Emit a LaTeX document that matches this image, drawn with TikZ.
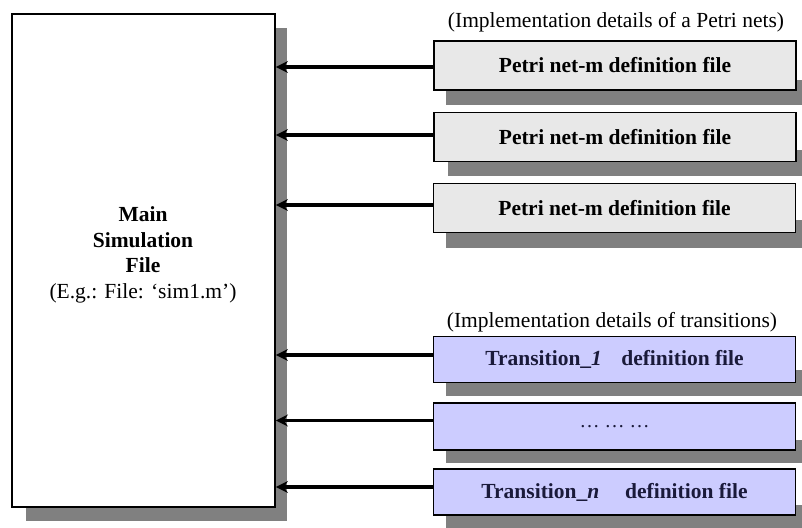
\documentclass[tikz,border=0pt]{standalone}
\usepackage{fontspec}
\setmainfont{Liberation Serif}
\usetikzlibrary{arrows.meta}
\definecolor{shadowgray}{HTML}{808080}
\definecolor{petrifill}{HTML}{E8E8E8}
\definecolor{transfill}{HTML}{CCCCFF}
\definecolor{transtext}{HTML}{1A1A3A}
\tikzset{
  mainbox/.style={draw=black, line width=1.8pt, fill=white, minimum width=263pt, minimum height=493pt, inner sep=0pt},
  petribox/.style={draw=black, line width=1.8pt, fill=petrifill, minimum width=362pt, minimum height=49pt, inner sep=0pt, font=\fontsize{21.5}{24}\selectfont\bfseries},
  transbox/.style={draw=black, line width=1.8pt, fill=transfill, minimum width=362pt, minimum height=46pt, inner sep=0pt, text=transtext, font=\fontsize{21.5}{24}\selectfont\bfseries},
  shadowfill/.style={fill=shadowgray, draw=none},
  feed/.style={line width=3.2pt, -{Stealth[length=12pt,width=12pt]}},
  caption/.style={font=\fontsize{21.5}{24}\selectfont, inner sep=0pt}
}
\begin{document}
\begin{tikzpicture}[x=1pt,y=-1pt]
\useasboundingbox (0,0) rectangle (802,527);
\clip (0,0) rectangle (802,527);
% main box shadow
\fill[shadowfill] (26,28) rectangle (287,521);
\node[mainbox] (main) at (143.5,260.5) {};
\node[align=center, font=\fontsize{21.5}{25.5}\selectfont] (maintext) at (143,255) {\textbf{Main}\\\textbf{Simulation}\\\textbf{File}\\(E.g.: File: `sim1.m')};
% petri boxes
\fill[shadowfill] (446,80) rectangle (810,105);
\node[petribox] (p1) at (615,65.5) {Petri net-m definition file};
\fill[shadowfill] (448,150) rectangle (810,176);
\node[petribox] (p2) at (615,137) {Petri net-m definition file};
\fill[shadowfill] (446,220) rectangle (810,248);
\node[petribox] (p3) at (614.5,208) {Petri net-m definition file};
% transition boxes
\fill[shadowfill] (446,370) rectangle (810,396);
\node[transbox] (t1) at (614.5,359.5) {Transition\_\textit{1}\hspace{0.9em}definition file};
\fill[shadowfill] (446,440) rectangle (810,463);
\node[transbox, minimum height=47pt, font=\fontsize{20}{22}\selectfont] (t2) at (614.5,426.5) {\dots\ \dots\ \dots};
\fill[shadowfill] (446,505) rectangle (810,530);
\node[transbox] (t3) at (614.5,492) {Transition\_\textit{n}\hspace{1.2em}definition file};
% captions
\node[caption] (cap1) at (616,22) {(Implementation details of a Petri nets)};
\node[caption] (cap2) at (612,322) {(Implementation details of transitions)};
% arrows
\draw[feed] ([yshift=-1.5pt]p1.west) -- ([yshift=-1.5pt]main.east |- p1.west);
\draw[feed] ([yshift=2pt]p2.west) -- ([yshift=2pt]main.east |- p2.west);
\draw[feed] ([yshift=3pt]p3.west) -- ([yshift=3pt]main.east |- p3.west);
\draw[feed] ([yshift=4.5pt]t1.west) -- ([yshift=4.5pt]main.east |- t1.west);
\draw[feed] ([yshift=6pt]t2.west) -- ([yshift=6pt]main.east |- t2.west);
\draw[feed] ([yshift=5pt]t3.west) -- ([yshift=5pt]main.east |- t3.west);
\end{tikzpicture}
\end{document}
